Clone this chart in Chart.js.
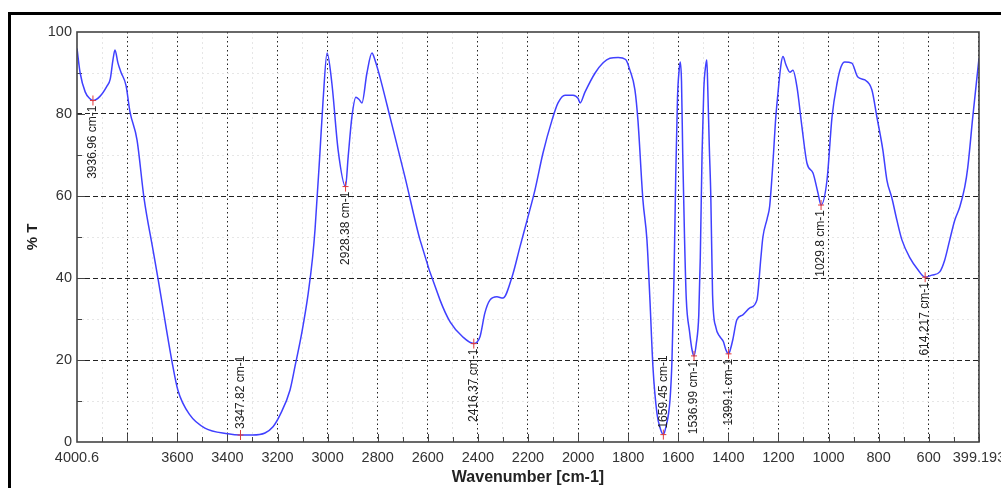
<!DOCTYPE html>
<html>
<head>
<meta charset="utf-8">
<script src="https://cdn.jsdelivr.net/npm/chart.js@4"></script>
<style>
	html, body { margin: 0; padding: 0; background: #fff; }
	#wrap { position: relative; width: 1001px; height: 488px; overflow: hidden; }
	#frame { position: absolute; left: 8px; top: 12px; width: 1200px; height: 600px; border-left: 3px solid #000; border-top: 3px solid #000; }
	canvas { position: absolute; left: 0; top: 0; }
</style>
</head>
<body>
<div id="wrap">
	<div id="frame"></div>
	<canvas id="chart" width="1001" height="488"></canvas>
</div>
<script>
// Spectrum
const wavenumbers = [
	4000.6, 3988, 3968, 3950, 3936.96, 3909, 3881, 3868, 3857, 3849, 3837, 3825, 3805, 3789, 3761, 3733,
	3697, 3677, 3621, 3598, 3550, 3490, 3398, 3347.82, 3300, 3250, 3218, 3190, 3150, 3130, 3102, 3078,
	3060, 3050, 3030, 3018, 3002, 2983, 2958, 2928.38, 2918, 2903, 2887, 2875, 2863, 2843, 2823, 2810, 2791,
	2751, 2691, 2631, 2551, 2511, 2460, 2416.37, 2392, 2372, 2352, 2324, 2300, 2264, 2232, 2200, 2172,
	2140, 2104, 2080, 2052, 2020, 2000, 1992, 1972, 1932, 1900, 1873, 1840, 1810, 1793, 1773, 1761,
	1741, 1725, 1713, 1701, 1685, 1670, 1659.45, 1650, 1633, 1625, 1617, 1610, 1603, 1596, 1592, 1587,
	1582, 1575, 1568, 1555, 1545, 1536.99, 1528, 1518, 1512, 1505, 1498, 1490, 1486, 1482, 1476, 1470,
	1463, 1450, 1435, 1420, 1410, 1399.1, 1390, 1382, 1366, 1342, 1314, 1286, 1270, 1262, 1245, 1235,
	1220, 1212, 1202, 1190, 1182, 1170, 1154, 1142, 1126, 1106, 1086, 1062, 1042, 1029.8, 1006, 986,
	966, 950, 935, 907, 883, 855, 827, 807, 783, 767, 747, 727, 707, 675, 643, 614.217,
	587, 556, 536, 516, 496, 476, 456, 444, 424, 399.193
];
const transmittance = [
	96.0, 90, 85.4, 83.8, 83.3, 84.3, 86.8, 88.5, 93.2, 95.6, 92.4, 90.2, 87, 80.5, 73.7, 59.5,
	46.8, 39.8, 19.5, 12.7, 6.6, 3.4, 2.0, 1.7, 1.7, 2.2, 3.7, 6.6, 12.7, 18.5, 27, 36,
	45, 52, 71.2, 83.4, 94.9, 87.5, 71.2, 62.3, 69.5, 79.3, 84.1, 83.6, 82.7, 90, 94.9, 93, 89,
	79.3, 64.6, 49.3, 34.6, 29.3, 25.6, 24, 25.6, 31.5, 34.6, 35.4, 35.1, 40.2, 47.6, 54.9, 61.5,
	70.5, 78.5, 82.7, 84.6, 84.6, 83.8, 82.7, 85.4, 90, 92.5, 93.6, 93.8, 93.3, 90.7, 85.9, 78.5,
	59, 49.3, 34.6, 18.3, 7, 3, 1.8, 3.5, 10.2, 20, 40, 65, 84, 91, 92.7, 88,
	70, 50, 35, 27, 22.5, 21, 24, 31, 45, 70, 86, 92, 93.2, 86, 72, 60,
	36, 28, 25.8, 24.5, 22.5, 21.5, 23, 25, 29.8, 31, 32.7, 34.6, 45, 50, 54.5, 57.5,
	70, 78, 85, 92, 94, 92, 90.2, 90.7, 86.6, 76.8, 68, 65.6, 60.7, 57.8, 63.9, 79.3,
	87.5, 91.5, 92.7, 92.4, 89, 88.3, 85.9, 79.3, 71.2, 63.9, 59.5, 54.1, 49.3, 44.9, 42, 40.2,
	40.7, 41.5, 44.4, 49.3, 54.1, 57.3, 62.2, 67, 79.3, 93.6
];

// Marked peaks
const peakWavenumbers = [3936.96, 3347.82, 2928.38, 2416.37, 1659.45, 1536.99, 1399.1, 1029.8, 614.217];
const peakValues = [83.3, 1.7, 62.3, 24, 1.8, 21, 21.5, 57.8, 40.2];
const peakLabels = ["3936.96 cm-1", "3347.82 cm-1", "2928.38 cm-1", "2416.37 cm-1", "1659.45 cm-1",
	"1536.99 cm-1", "1399.1 cm-1", "1029.8 cm-1", "614.217 cm-1"];

// Axes
const xMin = 399.193;
const xMax = 4000.6;
const xTickLabels = [4000.6, 3600, 3400, 3200, 3000, 2800, 2600, 2400, 2200, 2000, 1800, 1600, 1400, 1200, 1000, 800, 600, 399.193];
const yTickLabels = [0, 20, 40, 60, 80, 100];

const xGridValues = [xMax];
for (let v = 3900; v >= 400; v -= 100) xGridValues.push(v);
xGridValues.push(xMin);
const yGridValues = [];
for (let v = 0; v <= 100; v += 10) yGridValues.push(v);

const FONT = '"Liberation Sans", Arial, sans-serif';
Chart.defaults.font.family = FONT;

// box round the plot and the little inward ticks
const framePlugin = {
	id: "frame",
	beforeDatasetsDraw(chart) {
		const { ctx, chartArea: a, scales } = chart;
		ctx.save();
		ctx.strokeStyle = "#444";
		ctx.lineWidth = 1;
		scales.x.ticks.forEach((t) => {
			if (t.value === xMin || t.value === xMax) return;
			const px = Math.round(scales.x.getPixelForValue(t.value)) + 0.5;
			const len = t.value % 200 === 0 ? 8 : 5;
			ctx.beginPath();
			ctx.moveTo(px, a.bottom);
			ctx.lineTo(px, a.bottom - len);
			ctx.stroke();
		});
		scales.y.ticks.forEach((t) => {
			if (t.value === 0 || t.value === 100) return;
			const py = Math.round(scales.y.getPixelForValue(t.value)) + 0.5;
			const len = t.value % 20 === 0 ? 8 : 5;
			ctx.beginPath();
			ctx.moveTo(a.left, py);
			ctx.lineTo(a.left + len, py);
			ctx.stroke();
		});
		ctx.restore();
	},
	afterDraw(chart) {
		const { ctx, chartArea: a } = chart;
		ctx.save();
		ctx.strokeStyle = "#444";
		ctx.lineWidth = 1.6;
		ctx.strokeRect(a.left, a.top, a.right - a.left, a.bottom - a.top);
		ctx.restore();
	},
};

// red cross + vertical label at each peak
const peakPlugin = {
	id: "peaks",
	afterDatasetsDraw(chart) {
		const { ctx, scales } = chart;
		ctx.save();
		ctx.font = "12px " + FONT;
		ctx.fillStyle = "#222";
		peakWavenumbers.forEach((wn, i) => {
			const px = scales.x.getPixelForValue(wn);
			const py = scales.y.getPixelForValue(peakValues[i]);
			ctx.strokeStyle = "#e03c3c";
			ctx.lineWidth = 1;
			ctx.beginPath();
			ctx.moveTo(px, py - 5);
			ctx.lineTo(px, py + 5);
			ctx.moveTo(px - 3, py);
			ctx.lineTo(px + 3, py);
			ctx.stroke();

			const above = peakValues[i] < 10;
			ctx.save();
			ctx.translate(px, above ? py - 6 : py + 5);
			ctx.rotate(-Math.PI / 2);
			ctx.textAlign = above ? "left" : "right";
			ctx.textBaseline = "middle";
			ctx.fillText(peakLabels[i], 0, 0);
			ctx.restore();
		});
		ctx.restore();
	},
};

new Chart(document.getElementById("chart"), {
	type: "line",
	data: {
		datasets: [
			{
				data: wavenumbers.map((w, i) => ({ x: w, y: transmittance[i] })),
				borderColor: "#4040ff",
				borderWidth: 1.5,
				pointRadius: 0,
				cubicInterpolationMode: "monotone",
				fill: false,
			},
		],
	},
	options: {
		responsive: false,
		animation: false,
		events: [],
		layout: { padding: { top: 32, right: 22, left: 0, bottom: 0 } },
		plugins: { legend: { display: false }, tooltip: { enabled: false } },
		scales: {
			x: {
				type: "linear",
				reverse: true,
				min: xMin,
				max: xMax,
				afterBuildTicks: (s) => {
					s.ticks = xGridValues.map((v) => ({ value: v }));
				},
				afterFit: (s) => {
					s.height = 46;
					s.paddingLeft = 0;
					s.paddingRight = 0;
				},
				ticks: {
					autoSkip: false,
					maxRotation: 0,
					padding: 7,
					color: "#333",
					font: { size: 14.5 },
					callback: (v) => (xTickLabels.includes(v) ? String(v) : ""),
				},
				grid: {
					drawTicks: false,
					lineWidth: 1,
					color: (c) => {
						const v = c.tick.value;
						if (v === xMin || v === xMax) return "rgba(0,0,0,0)";
						return v % 200 === 0 ? "#222" : "#e6e6e6";
					},
				},
				border: {
					display: false,
					dash: (c) => (c.tick && c.tick.value % 200 === 0 ? [1.5, 3] : [2, 3]),
				},
				title: {
					display: true,
					text: "Wavenumber [cm-1]",
					color: "#222",
					font: { size: 16, weight: "bold" },
					padding: { top: 0, bottom: 1 },
				},
			},
			y: {
				min: 0,
				max: 100,
				afterBuildTicks: (s) => {
					s.ticks = yGridValues.map((v) => ({ value: v }));
				},
				afterFit: (s) => {
					s.width = 77;
					s.paddingTop = 0;
					s.paddingBottom = 0;
				},
				ticks: {
					padding: 5,
					color: "#333",
					font: { size: 14.5 },
					callback: (v) => (yTickLabels.includes(v) ? String(v) : ""),
				},
				grid: {
					drawTicks: false,
					lineWidth: 1,
					color: (c) => {
						const v = c.tick.value;
						if (v === 0 || v === 100) return "rgba(0,0,0,0)";
						return v % 20 === 0 ? "#222" : "#e6e6e6";
					},
				},
				border: {
					display: false,
					dash: (c) => (c.tick && c.tick.value % 20 === 0 ? [5, 3] : [2, 3]),
				},
				title: {
					display: true,
					text: "% T",
					color: "#222",
					font: { size: 15, weight: "bold" },
					padding: { top: 24, bottom: 0 },
				},
			},
		},
	},
	plugins: [framePlugin, peakPlugin],
});
</script>
</body>
</html>
